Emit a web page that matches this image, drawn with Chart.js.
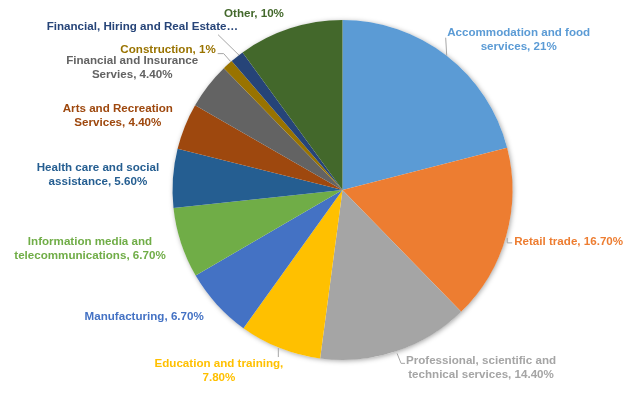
<!DOCTYPE html>
<html>
<head>
<meta charset="utf-8">
<script src="https://cdn.jsdelivr.net/npm/chart.js@4/dist/chart.umd.min.js"></script>
<style>
html,body{margin:0;padding:0;background:#fff;}
#wrap{width:638px;height:396px;position:relative;}
</style>
</head>
<body>
<div id="wrap"><canvas id="c" width="638" height="396"></canvas></div>
<script>
// ---- data ----
const categories = [
  "Accommodation and food services",
  "Retail trade",
  "Professional, scientific and technical services",
  "Education and training",
  "Manufacturing",
  "Information media and telecommunications",
  "Health care and social assistance",
  "Arts and Recreation Services",
  "Financial and Insurance Servies",
  "Construction",
  "Financial, Hiring and Real Estate Services",
  "Other"
];
const values = [21, 16.7, 14.4, 7.8, 6.7, 6.7, 5.6, 4.4, 4.4, 1, 1.3, 10];

// ---- styles ----
const colors = ["#5B9BD5","#ED7D31","#A5A5A5","#FFC000","#4472C4","#70AD47","#255E91","#9E480E","#636363","#997300","#264478","#43682B"];

// label text lines (wrapped like the reference)
const labelLines = [
  ["Accommodation and food", "services, 21%"],
  ["Retail trade, 16.70%"],
  ["Professional, scientific and", "technical services, 14.40%"],
  ["Education and training,", "7.80%"],
  ["Manufacturing, 6.70%"],
  ["Information media and", "telecommunications, 6.70%"],
  ["Health care and social", "assistance, 5.60%"],
  ["Arts and Recreation", "Services, 4.40%"],
  ["Financial and Insurance", "Servies, 4.40%"],
  ["Construction, 1%"],
  ["Financial, Hiring and Real Estate\u2026"],
  ["Other, 10%"]
];
// label placement relative to the slice's outer mid point
const labelPlacement = [
  {dx:72, dy:-23, align:"center", leader:[[0,0],[-1,-18]]},
  {dx:8, dy:6, align:"left", leader:[[1,2],[1,7],[6,7]]},
  {dx:85, dy:9, align:"center", leader:[[1,2],[5,12],[9,12]]},
  {dx:-61, dy:16, align:"center", leader:[[-1.6,0],[-1.6,9]]},
  {dx:-13, dy:12, align:"right"},
  {dx:-91, dy:-1, align:"center"},
  {dx:-75, dy:-10, align:"center"},
  {dx:-67, dy:-18, align:"center"},
  {dx:-76, dy:-25, align:"center"},
  {dx:-12, dy:-15, align:"right", leader:[[3,-3],[-4,-11],[-10,-11]]},
  {dx:1, dy:-30, align:"right", leader:[[2,-1.5],[-19,-22]]},
  {dx:-36, dy:-14.5, align:"center"}
];

const shadowPlugin = {
  id: "shadow",
  beforeDatasetsDraw(chart) {
    const arc = chart.getDatasetMeta(0).data[0];
    if (!arc) return;
    const ctx = chart.ctx;
    ctx.save();
    ctx.shadowColor = "rgba(0,0,0,0.35)";
    ctx.shadowBlur = 5;
    ctx.shadowOffsetX = 1;
    ctx.shadowOffsetY = 1;
    ctx.fillStyle = "#ffffff";
    ctx.beginPath();
    ctx.arc(arc.x, arc.y, arc.outerRadius, 0, Math.PI * 2);
    ctx.fill();
    ctx.restore();
  }
};

const labelPlugin = {
  id: "pieLabels",
  afterDatasetsDraw(chart) {
    const ctx = chart.ctx;
    const meta = chart.getDatasetMeta(0);
    ctx.save();
    ctx.font = "bold 11.6px 'Liberation Sans', Arial, sans-serif";
    ctx.textBaseline = "middle";
    meta.data.forEach((arc, i) => {
      const p = arc.getProps(["x","y","startAngle","endAngle","outerRadius"], true);
      const mid = (p.startAngle + p.endAngle) / 2;
      const ex = p.x + Math.cos(mid) * p.outerRadius;
      const ey = p.y + Math.sin(mid) * p.outerRadius;
      const pl = labelPlacement[i];
      if (pl.leader) {
        ctx.strokeStyle = "#A6A6A6";
        ctx.lineWidth = 1;
        ctx.beginPath();
        pl.leader.forEach((pt, k) => {
          const x = ex + pt[0], y = ey + pt[1];
          if (k === 0) ctx.moveTo(x, y); else ctx.lineTo(x, y);
        });
        ctx.stroke();
      }
      ctx.fillStyle = colors[i];
      ctx.textAlign = pl.align;
      labelLines[i].forEach((line, k) => {
        ctx.fillText(line, ex + pl.dx, ey + pl.dy + k * 14);
      });
    });
    ctx.restore();
  }
};

new Chart(document.getElementById("c"), {
  type: "pie",
  data: {
    labels: categories,
    datasets: [{
      data: values,
      backgroundColor: colors,
      borderWidth: 0,
      hoverOffset: 0
    }]
  },
  options: {
    responsive: false,
    animation: false,
    layout: { padding: { left: 172, right: 125, top: 20, bottom: 36 } },
    plugins: {
      legend: { display: false },
      tooltip: { enabled: false }
    }
  },
  plugins: [shadowPlugin, labelPlugin]
});
</script>
</body>
</html>
